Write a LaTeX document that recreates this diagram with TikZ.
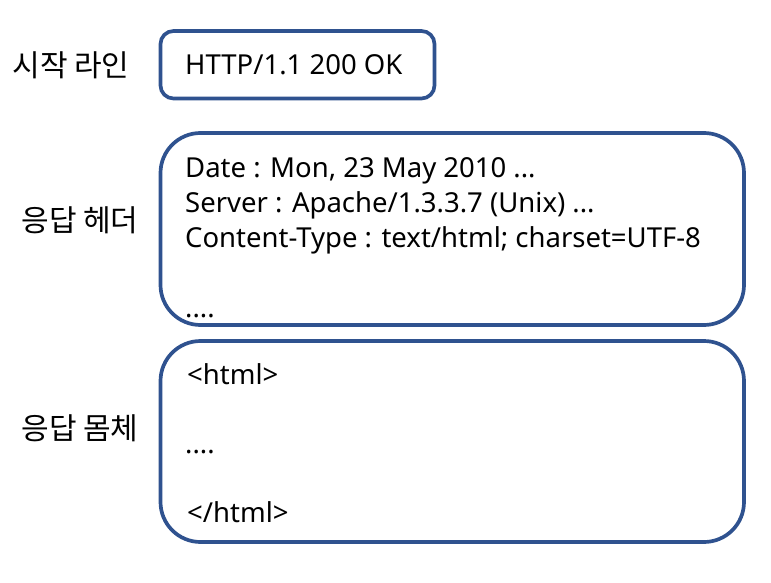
\documentclass[tikz,border=0pt]{standalone}
\usepackage{fontspec}
\setmainfont{Noto Sans}
\newfontfamily\krfont{Noto Sans CJK KR}
\definecolor{boxblue}{HTML}{2F528F}
\tikzset{
  panel/.style={draw=boxblue, line width=3.7pt, fill=white, inner sep=0pt},
  txt/.style={anchor=base west, inner sep=0pt, font=\fontsize{27.5}{33}\selectfont},
  lbl/.style={anchor=center, inner sep=0pt, font=\krfont\fontsize{30}{33}\selectfont},
}
\begin{document}
\begin{tikzpicture}[x=1pt,y=-1pt]
\useasboundingbox (0,0) rectangle (771,583);
% panels
\node[panel, rounded corners=13pt, minimum width=274pt, minimum height=67.5pt] (start) at (297.5,64.75) {};
\node[panel, rounded corners=40pt, minimum width=583.5pt, minimum height=192pt] (header) at (452.25,229) {};
\node[panel, rounded corners=40pt, minimum width=583.5pt, minimum height=201pt] (body) at (452.25,441.5) {};
% labels
\node[lbl] (l1) at (71,65) {시작 라인};
\node[lbl] (l2) at (80,220) {응답 헤더};
\node[lbl] (l3) at (80,428) {응답 몸체};
% texts
\node[txt] (t1) at (185,75) {HTTP/1.1 200 OK};
\node[txt] (h1) at (185,177) {Date : Mon, 23 May 2010 ...};
\node[txt] (h2) at (185,212) {Server : Apache/1.3.3.7 (Unix) ...};
\node[txt] (h3) at (185,247) {Content-Type : text/html; charset=UTF-8};
\node[txt] (h4) at (185,317) {....};
\node[txt] (b1) at (187,384) {<html>};
\node[txt] (b2) at (185,453) {....};
\node[txt] (b3) at (187,522) {</html>};
\end{tikzpicture}
\end{document}
